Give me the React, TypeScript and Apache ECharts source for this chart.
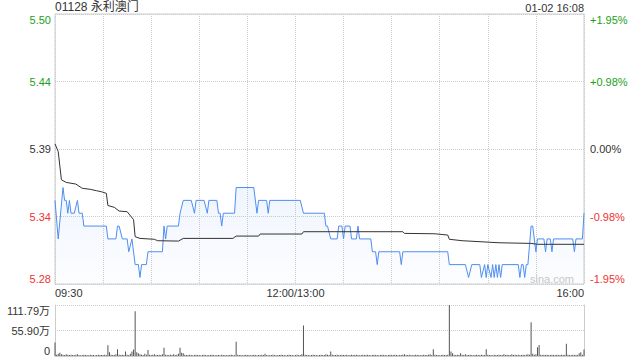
import React, { useEffect, useRef } from "react";
import * as echarts from "echarts";

const stockTitle = "01128 永利澳门";
const stampText = "01-02 16:08";
const prevClose = 5.39;
const maxPct = 1.95;
const priceTicks = ["5.28", "5.34", "5.39", "5.44", "5.50"];
const pctTicks = ["-1.95%", "-0.98%", "0.00%", "+0.98%", "+1.95%"];
const tickColors = ["#ee3333", "#ee3333", "#333333", "#1ca01c", "#1ca01c"];
const timeLabels: Record<number, string> = { 0: "09:30", 150: "12:00/13:00", 330: "16:00" };

// minute index from 09:30 (lunch break removed), price
const priceMinutes = [
  0, 2, 5, 6, 7, 8, 9, 10, 12, 14, 15, 17, 18, 32, 33, 38, 39, 40, 42, 45, 46, 48, 50, 52, 53, 54, 57, 58,
  67, 68, 69, 70, 77, 78, 80, 85, 87, 88, 93, 95, 96, 101, 102, 103, 104, 105, 112, 113, 124, 126, 127,
  132, 133, 134, 153, 155, 168, 169, 170, 172, 176, 177, 179, 180, 181, 184, 185, 188, 189, 190, 197, 198,
  200, 201, 202, 215, 216, 217, 245, 246, 256, 258, 260, 265, 266, 268, 269, 270, 272, 273, 274, 275, 276,
  277, 278, 279, 289, 290, 291, 292, 293, 294, 295, 297, 298, 300, 301, 305, 306, 307, 309, 310, 311, 323,
  324, 325, 329, 330,
];
const priceValues = [
  5.35, 5.32, 5.36, 5.35, 5.35, 5.34, 5.35, 5.34, 5.34, 5.35, 5.34, 5.34, 5.33, 5.33, 5.32, 5.32, 5.33, 5.33,
  5.32, 5.32, 5.31, 5.32, 5.30, 5.30, 5.29, 5.30, 5.30, 5.31,
  5.31, 5.33, 5.32, 5.33, 5.33, 5.34, 5.35, 5.35, 5.34, 5.35, 5.35, 5.34, 5.35, 5.35, 5.34, 5.34, 5.33, 5.34,
  5.34, 5.36, 5.36, 5.34, 5.35,
  5.35, 5.34, 5.35, 5.35, 5.34, 5.34, 5.33, 5.33, 5.32, 5.32, 5.33, 5.33, 5.32, 5.33, 5.33, 5.32, 5.32, 5.33,
  5.32, 5.32, 5.31,
  5.31, 5.30, 5.31, 5.31, 5.30, 5.31, 5.31, 5.30, 5.30, 5.29, 5.30, 5.30, 5.29, 5.30, 5.29, 5.30, 5.29, 5.30,
  5.29, 5.30, 5.29,
  5.30, 5.29, 5.30, 5.30, 5.29, 5.30, 5.30, 5.29, 5.30, 5.30, 5.33, 5.33, 5.31, 5.32, 5.32, 5.31, 5.32, 5.32,
  5.31, 5.32, 5.32,
  5.31, 5.32, 5.32, 5.34,
];

const avgMinutes = [
  0, 2, 4, 7, 13, 17, 22, 26, 29, 32, 33, 37, 40, 45, 49, 50, 53, 62, 64, 77, 80, 111, 113, 127, 128, 154,
  155, 217, 218, 237, 245, 246, 254, 277, 297, 301, 330,
];
const avgValues = [
  5.394, 5.388, 5.366, 5.364, 5.3627, 5.3594, 5.3586, 5.3575, 5.3567, 5.3555, 5.346, 5.3446, 5.3417, 5.3412,
  5.335, 5.3217, 5.3204, 5.3197, 5.3186, 5.3183, 5.3204, 5.3204, 5.3222, 5.3222, 5.3238, 5.3238,
  5.3256, 5.3256, 5.3243, 5.324, 5.323, 5.3197, 5.3186, 5.317, 5.3165, 5.3158, 5.3158,
];

// per-minute volume, in 万 shares
const volumes = [
  29.6, 3, 5, 7, 4, 3, 2, 4, 3, 2, 3, 2, 2, 3, 4, 2, 1.5, 2, 3, 2, 2, 1.5, 3, 2, 2, 1.5, 2, 3, 2, 2,
  2, 3, 2, 23.8, 8, 3, 2, 2, 4, 15, 3, 2, 3, 2, 10, 3, 2, 5, 10, 14, 98, 8, 6, 4, 3, 2, 5, 3, 13, 3,
  2, 3, 4, 2, 2, 3, 2, 4, 18, 3, 2, 2, 3, 2, 4, 2, 3, 5, 18, 7, 6, 3, 2, 2, 3, 2, 1.5, 2, 3, 2,
  2, 1.5, 2, 3, 2, 1.5, 2, 2, 3, 2, 1.5, 2, 2, 1.5, 3, 2, 2, 1.5, 2, 2, 3, 2, 1.5, 31, 3, 2, 2, 1.5, 2, 3,
  2, 2, 1.5, 2, 3, 2, 1.5, 2, 2, 3, 2, 5, 2, 1.5, 2, 2, 3, 2, 1.5, 2, 2, 3, 2, 2, 1.5, 2, 3, 2, 2, 1.5,
  2, 3, 2, 2, 4, 67, 3, 2, 2, 1.5, 2, 3, 2, 2, 1.5, 2, 3, 2, 2, 4, 3, 2, 10, 3, 2, 2, 3, 2, 2, 3,
  2, 2, 3, 1.5, 2, 3, 2, 2, 3, 2, 1.5, 2, 3, 2, 2, 3, 2, 1.5, 2, 3, 2, 2, 1.5, 2, 3, 2, 2, 1.5, 2, 3,
  2, 2, 3, 2, 1.5, 2, 2, 3, 4, 2, 2, 3, 2, 1.5, 2, 3, 2, 2, 1.5, 2, 3, 2, 2, 3, 4, 2, 15, 3, 2, 2,
  1.5, 2, 3, 2, 2, 3, 111.79, 10, 6, 3, 2, 3, 2, 6, 3, 2, 4, 2, 2, 3, 2, 1.5, 2, 3, 2, 2, 3, 2, 2, 15,
  3, 2, 2, 1.5, 3, 2, 2, 3, 2, 2, 4, 2, 3, 2, 2, 4, 2, 3, 2, 3, 2, 2, 3, 2, 3, 4, 3, 74, 5, 3,
  4, 19, 24, 3, 2, 3, 2, 3, 2, 2, 3, 2, 2, 3, 2, 2, 3, 2, 3, 27, 3, 2, 2, 3, 2, 3, 2, 6, 8, 3,
  14,
];
const volMax = 111.79;
const volTicks = ["0", "55.90万", "111.79万"];

const FONT = "Arial, 'Liberation Sans', 'Noto Sans CJK SC', sans-serif";

export default function App() {
  const ref = useRef<HTMLDivElement>(null);
  useEffect(() => {
    const chart = echarts.init(ref.current!, null, { renderer: "svg" });
    const toPct = (p: number) => (p / prevClose - 1) * 100;
    const step = maxPct / 2;
    const idxOf = (v: number) => Math.round((v + maxPct) / step);
    const rich: Record<string, any> = {};
    tickColors.forEach((c, i) => {
      rich["c" + i] = { color: c, fontSize: 11, fontFamily: FONT };
    });
    const grid = "#cccccc";
    const option: any = {
      animation: false,
      backgroundColor: "#ffffff",
      textStyle: { fontFamily: FONT },
      title: [
        {
          text: stockTitle,
          left: 55,
          top: 1,
          padding: 0,
          textStyle: { fontSize: 12, fontWeight: "normal", color: "#333", fontFamily: FONT },
        },
        {
          text: stampText,
          right: 56,
          top: 2,
          padding: 0,
          textStyle: { fontSize: 11, fontWeight: "normal", color: "#333", fontFamily: FONT },
        },
      ],
      graphic: [
        {
          type: "text",
          right: 66,
          top: 273,
          style: { text: "sina.com", fill: "#c8c8c8", font: "11px " + FONT },
        },
      ],
      grid: [
        { left: 55, top: 14, width: 529, height: 270, show: true, borderColor: grid, borderWidth: 1 },
        { left: 55, top: 305, width: 529, height: 51, show: false },
      ],
      xAxis: [
        {
          type: "value",
          gridIndex: 0,
          min: 0,
          max: 330,
          interval: 30,
          axisLine: { show: false },
          axisTick: { show: false },
          splitLine: { show: true, lineStyle: { color: grid, type: "dotted" } },
          axisLabel: {
            show: true,
            margin: 3,
            fontSize: 11,
            color: "#333",
            fontFamily: FONT,
            alignMinLabel: "left",
            alignMaxLabel: "right",
            formatter: (v: number) => timeLabels[Math.round(v)] ?? "",
          },
        },
        {
          type: "value",
          gridIndex: 1,
          min: 0,
          max: 330,
          axisLine: { show: true, lineStyle: { color: grid } },
          axisTick: { show: false },
          splitLine: { show: false },
          axisLabel: { show: false },
        },
      ],
      yAxis: [
        {
          type: "value",
          gridIndex: 0,
          position: "left",
          min: -maxPct,
          max: maxPct,
          interval: step,
          axisLine: { show: false },
          axisTick: { show: false },
          splitLine: { show: true, lineStyle: { color: grid, type: "dotted" } },
          axisLabel: {
            margin: 4,
            fontSize: 11,
            fontFamily: FONT,
            verticalAlignMinLabel: "bottom",
            verticalAlignMaxLabel: "top",
            formatter: (v: number) => {
              const i = idxOf(v);
              return `{c${i}|${priceTicks[i]}}`;
            },
            rich,
          },
        },
        {
          type: "value",
          gridIndex: 0,
          position: "right",
          min: -maxPct,
          max: maxPct,
          interval: step,
          axisLine: { show: false },
          axisTick: { show: false },
          splitLine: { show: false },
          axisLabel: {
            margin: 6,
            fontSize: 11,
            fontFamily: FONT,
            verticalAlignMinLabel: "bottom",
            verticalAlignMaxLabel: "top",
            formatter: (v: number) => {
              const i = idxOf(v);
              return `{c${i}|${pctTicks[i]}}`;
            },
            rich,
          },
        },
        {
          type: "value",
          gridIndex: 1,
          position: "left",
          min: 0,
          max: volMax,
          interval: volMax / 2,
          axisLine: { show: true, lineStyle: { color: grid } },
          axisTick: { show: false },
          splitLine: { show: true, lineStyle: { color: grid, type: "dotted" } },
          axisLabel: {
            margin: 5,
            fontSize: 11,
            color: "#333",
            fontFamily: FONT,
            verticalAlignMinLabel: "bottom",
            verticalAlignMaxLabel: "top",
            formatter: (v: number) => volTicks[Math.round(v / (volMax / 2))] ?? "",
          },
        },
        {
          type: "value",
          gridIndex: 1,
          position: "right",
          min: 0,
          max: volMax,
          axisLine: { show: true, lineStyle: { color: grid } },
          axisTick: { show: false },
          splitLine: { show: false },
          axisLabel: { show: false },
        },
      ],
      series: [
        {
          type: "line",
          xAxisIndex: 0,
          yAxisIndex: 0,
          data: priceMinutes.map((t, i) => [t, toPct(priceValues[i])]),
          showSymbol: false,
          symbol: "none",
          lineStyle: { color: "#4f8ef0", width: 1 },
          areaStyle: {
            origin: "start",
            color: new echarts.graphic.LinearGradient(0, 0, 0, 1, [
              { offset: 0, color: "rgba(79,142,240,0.13)" },
              { offset: 1, color: "rgba(79,142,240,0.02)" },
            ]),
          },
          z: 3,
        },
        {
          type: "line",
          xAxisIndex: 0,
          yAxisIndex: 0,
          data: avgMinutes.map((t, i) => [t, toPct(avgValues[i])]),
          showSymbol: false,
          symbol: "none",
          lineStyle: { color: "#333333", width: 1 },
          z: 4,
        },
        {
          type: "bar",
          xAxisIndex: 1,
          yAxisIndex: 2,
          data: volumes.map((v, i) => [i, v]),
          barWidth: 1,
          itemStyle: { color: "#555555" },
        },
      ],
    };
    chart.setOption(option);
    return () => chart.dispose();
  }, []);
  return (
    <div
      ref={ref}
      style={{ position: "absolute", left: 0, top: 0, width: 640, height: 360 }}
    />
  );
}
